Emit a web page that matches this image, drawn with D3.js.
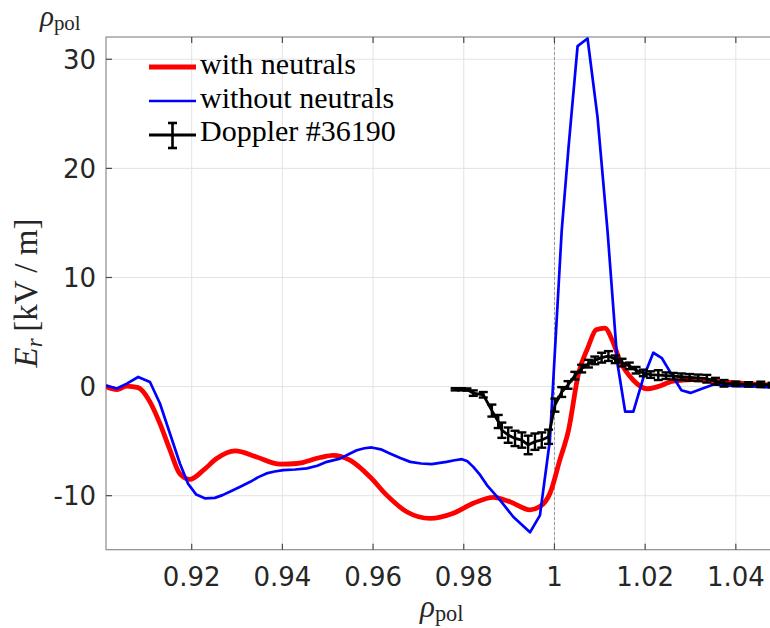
<!DOCTYPE html>
<html>
<head>
<meta charset="utf-8">
<script src="https://cdn.jsdelivr.net/npm/d3@7"></script>
<style>
  html, body { margin: 0; padding: 0; background: #fff; overflow: hidden; }
  svg { display: block; }
</style>
</head>
<body>
<svg id="chart" width="770" height="628"></svg>
<script>
// Radial electric field profiles across the separatrix
const redRho = [0.9011, 0.9035, 0.9057, 0.9082, 0.9108, 0.9130, 0.9152, 0.9174, 0.9196, 0.9226,
  0.9255, 0.9296, 0.9343, 0.9395, 0.9432, 0.9483, 0.9512, 0.9549, 0.9593, 0.9630,
  0.9674, 0.9726, 0.9777, 0.9821, 0.9865, 0.9902, 0.9946, 0.9968, 0.9990, 1.0012,
  1.0031, 1.0053, 1.0074, 1.0092, 1.0111, 1.0128, 1.0144, 1.0174, 1.0204, 1.0226,
  1.0262, 1.0306, 1.0372, 1.0453, 1.0490];
const redEr = [0.0, -0.27, 0.05, -0.1, -1.4, -3.4, -5.8, -8.0, -8.5, -7.66,
  -6.6, -5.9, -6.45, -7.1, -7.05, -6.5, -6.3, -6.75, -8.27, -9.95,
  -11.47, -12.08, -11.6, -10.7, -10.15, -10.56, -11.3, -11.0, -9.8, -6.7,
  -4.0, 1.2, 3.6, 5.2, 5.36, 4.2, 2.4, 0.58, -0.2, -0.03,
  0.5, 0.64, 0.42, 0.2, 0.1];

const blueRho = [0.9011, 0.9035, 0.9057, 0.9082, 0.9108, 0.9130, 0.9152, 0.9174, 0.9192, 0.9210,
  0.9230, 0.9251, 0.9268, 0.9284, 0.9306, 0.9329, 0.9347, 0.9365, 0.9383, 0.9402,
  0.9428, 0.9454, 0.9477, 0.9498, 0.9527, 0.9546, 0.9564, 0.9581, 0.9597, 0.9617,
  0.9637, 0.9660, 0.9682, 0.9706, 0.9729, 0.9762, 0.9780, 0.9796, 0.9808, 0.9821,
  0.9836, 0.9851, 0.9880, 0.9909, 0.9946, 0.9968, 0.9990, 1.0016, 1.0031, 1.0051,
  1.0073, 1.0095, 1.0117, 1.0139, 1.0156, 1.0174, 1.0196, 1.0218, 1.0237, 1.0260,
  1.0280, 1.0300, 1.0325, 1.0351, 1.0400, 1.0450, 1.0490];
const blueEr = [0.1, -0.18, 0.27, 0.88, 0.42, -1.55, -4.3, -7.05, -8.9, -9.9,
  -10.25, -10.2, -9.95, -9.64, -9.2, -8.73, -8.3, -7.96, -7.78, -7.66,
  -7.6, -7.5, -7.25, -6.9, -6.6, -6.2, -5.83, -5.65, -5.58, -5.75,
  -6.13, -6.55, -6.9, -7.05, -7.1, -6.9, -6.75, -6.65, -6.85, -7.36,
  -8.1, -9.03, -10.4, -11.93, -13.36, -11.8, -4.9, 14.3, 21.9, 31.2,
  31.9, 24.7, 14.3, 2.1, -2.3, -2.3, 0.8, 3.1, 2.6, 1.0,
  -0.34, -0.58, -0.2, 0.2, 0.05, 0.0, -0.1];

const dopRho = [0.9781, 0.9795, 0.9807, 0.9821, 0.9843, 0.9862, 0.9876, 0.9884, 0.9898, 0.9913,
  0.9928, 0.9942, 0.9957, 0.9972, 0.9987, 1.0001, 1.0016, 1.0030, 1.0045, 1.0060,
  1.0075, 1.0089, 1.0104, 1.0119, 1.0134, 1.0149, 1.0165, 1.0180, 1.0196, 1.0212,
  1.0229, 1.0246, 1.0262, 1.0280, 1.0298, 1.0317, 1.0336, 1.0355, 1.0374, 1.0400,
  1.0428, 1.0455, 1.0480];
const dopEr = [-0.25, -0.25, -0.27, -0.6, -0.75, -2.2, -3.2, -4.0, -4.45, -4.75,
  -4.9, -5.35, -5.05, -4.9, -4.6, -1.7, -0.5, 0.15, 1.0, 1.65,
  2.1, 2.4, 2.65, 2.8, 2.5, 2.2, 1.9, 1.5, 1.25, 1.1,
  1.05, 1.0, 0.95, 0.9, 0.85, 0.8, 0.72, 0.5, 0.3, 0.25,
  0.2, 0.2, 0.15];
const dopErr = [0.1, 0.1, 0.1, 0.25, 0.25, 0.55, 0.6, 0.7, 0.7, 0.7,
  0.7, 0.85, 0.75, 0.7, 0.65, 0.6, 0.45, 0.35, 0.35, 0.35,
  0.35, 0.35, 0.45, 0.45, 0.35, 0.35, 0.3, 0.3, 0.3, 0.3,
  0.45, 0.3, 0.3, 0.3, 0.3, 0.3, 0.35, 0.3, 0.3, 0.2,
  0.2, 0.25, 0.2];

const xTicks = [0.92, 0.94, 0.96, 0.98, 1.00, 1.02, 1.04];
const xTickLabels = ["0.92", "0.94", "0.96", "0.98", "1", "1.02", "1.04"];
const yTicks = [-10, 0, 10, 20, 30];
const yTickLabels = ["-10", "0", "10", "20", "30"];
const legendLabels = ["with neutrals", "without neutrals", "Doppler #36190"];
const separatrix = 1.0;

const svg = d3.select("#chart");
const L = 106, R = 778, T = 37, B = 549.7;

const x = d3.scaleLinear().domain([0.9011, 1.0493]).range([L, R]);
const y = d3.scaleLinear().domain([-14.95, 32.04]).range([B, T]);

const tickFont = "'DejaVu Sans', sans-serif";
const serif = "'Liberation Serif', 'Times New Roman', serif";

// grid
const grid = svg.append("g");
grid.selectAll("line.gx").data(xTicks).join("line")
  .attr("x1", d => x(d)).attr("x2", d => x(d)).attr("y1", T).attr("y2", B)
  .attr("stroke", "#e3e3e3").attr("stroke-width", 1);
grid.selectAll("line.gy").data(yTicks).join("line")
  .attr("x1", L).attr("x2", R).attr("y1", d => y(d)).attr("y2", d => y(d))
  .attr("stroke", "#e3e3e3").attr("stroke-width", 1);

// separatrix marker
svg.append("line")
  .attr("x1", x(separatrix)).attr("x2", x(separatrix)).attr("y1", T).attr("y2", B)
  .attr("stroke", "#999").attr("stroke-width", 1).attr("stroke-dasharray", "3,2");

// axes box and inward ticks
const axisColor = "#8c8c8c";
svg.append("rect").attr("x", L).attr("y", T).attr("width", R - L).attr("height", B - T)
  .attr("fill", "none").attr("stroke", axisColor).attr("stroke-width", 1.2);

const tl = 6;
const ticks = svg.append("g").attr("stroke", "#4a4a4a").attr("stroke-width", 1.2);
xTicks.forEach(v => {
  ticks.append("line").attr("x1", x(v)).attr("x2", x(v)).attr("y1", B).attr("y2", B - tl);
  ticks.append("line").attr("x1", x(v)).attr("x2", x(v)).attr("y1", T).attr("y2", T + tl);
});
yTicks.forEach(v => {
  ticks.append("line").attr("x1", L).attr("x2", L + tl).attr("y1", y(v)).attr("y2", y(v));
});

// tick labels
svg.append("g").selectAll("text").data(xTicks).join("text")
  .attr("x", d => x(d)).attr("y", 585.5)
  .attr("text-anchor", "middle")
  .attr("font-family", tickFont).attr("font-size", 26).attr("fill", "#262626")
  .text((d, i) => xTickLabels[i]);
svg.append("g").selectAll("text").data(yTicks).join("text")
  .attr("x", 96).attr("y", d => y(d) + 9.5)
  .attr("text-anchor", "end")
  .attr("font-family", tickFont).attr("font-size", 26).attr("fill", "#262626")
  .text((d, i) => yTickLabels[i]);

// data clip
svg.append("clipPath").attr("id", "plotclip")
  .append("rect").attr("x", L).attr("y", T).attr("width", R - L).attr("height", B - T);
const plot = svg.append("g").attr("clip-path", "url(#plotclip)");

const redLine = d3.line().x((d, i) => x(redRho[i])).y(d => y(d)).curve(d3.curveMonotoneX);
const blueLine = d3.line().x((d, i) => x(blueRho[i])).y(d => y(d)).curve(d3.curveLinear);
const dopLine = d3.line().x((d, i) => x(dopRho[i])).y(d => y(d));

plot.append("path").attr("d", redLine(redEr))
  .attr("fill", "none").attr("stroke", "#ff0000").attr("stroke-width", 4.8)
  .attr("stroke-linejoin", "round");
plot.append("path").attr("d", blueLine(blueEr))
  .attr("fill", "none").attr("stroke", "#0000ff").attr("stroke-width", 2.7)
  .attr("stroke-linejoin", "round");

plot.append("path").attr("d", dopLine(dopEr))
  .attr("fill", "none").attr("stroke", "#000").attr("stroke-width", 2.8);
const eb = plot.append("g").attr("stroke", "#000").attr("stroke-width", 2.4);
dopEr.forEach((v, i) => {
  const cx = x(dopRho[i]);
  const y0 = y(v - dopErr[i]), y1 = y(v + dopErr[i]);
  eb.append("line").attr("x1", cx).attr("x2", cx).attr("y1", y0).attr("y2", y1);
  eb.append("line").attr("x1", cx - 4.5).attr("x2", cx + 4.5).attr("y1", y0).attr("y2", y0);
  eb.append("line").attr("x1", cx - 4.5).attr("x2", cx + 4.5).attr("y1", y1).attr("y2", y1);
});

// legend
const lg = svg.append("g");
const lx0 = 149, lx1 = 196;
lg.append("line").attr("x1", lx0).attr("x2", lx1).attr("y1", 67).attr("y2", 67)
  .attr("stroke", "#ff0000").attr("stroke-width", 4.8);
lg.append("line").attr("x1", lx0).attr("x2", lx1).attr("y1", 101).attr("y2", 101)
  .attr("stroke", "#0000ff").attr("stroke-width", 2.7);
lg.append("line").attr("x1", lx0).attr("x2", lx1).attr("y1", 135).attr("y2", 135)
  .attr("stroke", "#000").attr("stroke-width", 2.8);
const mx = (lx0 + lx1) / 2;
lg.append("line").attr("x1", mx).attr("x2", mx).attr("y1", 123).attr("y2", 148)
  .attr("stroke", "#000").attr("stroke-width", 2.6);
lg.append("line").attr("x1", mx - 4.5).attr("x2", mx + 4.5).attr("y1", 123).attr("y2", 123)
  .attr("stroke", "#000").attr("stroke-width", 2.6);
lg.append("line").attr("x1", mx - 4.5).attr("x2", mx + 4.5).attr("y1", 148).attr("y2", 148)
  .attr("stroke", "#000").attr("stroke-width", 2.6);
[74, 108, 141].forEach((by, i) => {
  lg.append("text").attr("x", 200).attr("y", by)
    .attr("font-family", serif).attr("font-size", 30).attr("fill", "#000")
    .text(legendLabels[i]);
});

// axis labels
function rhoLabel(g, xPos, yPos, size) {
  const t = g.append("text").attr("x", xPos).attr("y", yPos)
    .attr("font-family", serif).attr("fill", "#262626");
  t.append("tspan").attr("font-size", size).attr("font-style", "italic").text("ρ");
  t.append("tspan").attr("font-size", size * 0.72).attr("dy", 4).text("pol");
  return t;
}
rhoLabel(svg, 420, 617, 31);
rhoLabel(svg, 40, 26, 29);

const yl = svg.append("text")
  .attr("transform", "translate(37,293) rotate(-90)")
  .attr("text-anchor", "middle")
  .attr("font-family", serif).attr("fill", "#262626").attr("font-size", 33);
yl.append("tspan").attr("font-style", "italic").text("E");
yl.append("tspan").attr("font-style", "italic").attr("font-size", 23).attr("dy", 5).text("r");
yl.append("tspan").attr("dy", -5).attr("xml:space", "preserve").text("\u2009[kV / m]");
</script>
</body>
</html>
